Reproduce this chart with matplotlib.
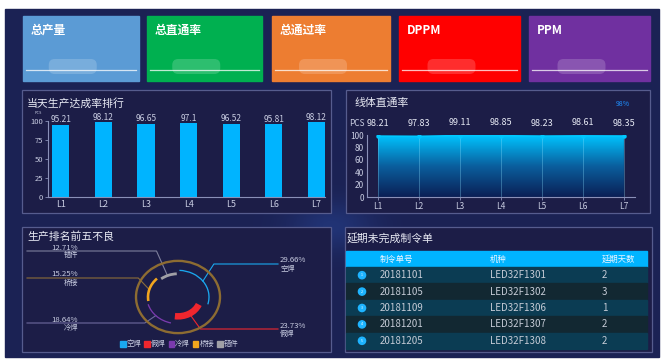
import numpy as np
import matplotlib
matplotlib.use('Agg')
import matplotlib.pyplot as plt
from matplotlib.patches import Rectangle, Arc, Circle, Ellipse, FancyBboxPatch

plt.rcParams['font.family'] = ['Noto Sans CJK SC', 'DejaVu Sans']

# ---------------- data ----------------
card_titles = ['总产量', '总直通率', '总通过率', 'DPPM', 'PPM']
card_colors = ['#5b9bd5', '#00b050', '#ed7d31', '#ff0000', '#7030a0']

line_names = ['L1', 'L2', 'L3', 'L4', 'L5', 'L6', 'L7']
rank_values = [95.21, 98.12, 96.65, 97.1, 96.52, 95.81, 98.12]
rank_labels = ['95.21', '98.12', '96.65', '97.1', '96.52', '95.81', '98.12']
fpy_values = [98.21, 97.83, 99.11, 98.85, 98.23, 98.61, 98.35]
fpy_labels = ['98.21', '97.83', '99.11', '98.85', '98.23', '98.61', '98.35']

defect_names = ['空焊', '假焊', '冷焊', '桥接', '错件']
defect_pcts = [29.66, 23.73, 18.64, 15.25, 12.71]
defect_colors = ['#1aa8f0', '#f0262e', '#7a3aae', '#f2a51e', '#a0a0a6']

table_headers = ['制令单号', '机种', '延期天数']
order_ids = ['20181101', '20181105', '20181109', '20181201', '20181205']
models = ['LED32F1301', 'LED32F1302', 'LED32F1306', 'LED32F1307', 'LED32F1308']
delay_days = ['2', '3', '1', '2', '2']

# ---------------- figure ----------------
W, H = 669, 363
fig = plt.figure(figsize=(W / 100, H / 100), dpi=100)
fig.patch.set_facecolor('white')

bg = fig.add_axes([0, 0, 1, 1])
bg.set_xlim(0, W)
bg.set_ylim(H, 0)
bg.axis('off')


def pax(x0, y0, x1, y1):
    a = fig.add_axes([x0 / W, 1 - y1 / H, (x1 - x0) / W, (y1 - y0) / H])
    a.set_facecolor('none')
    return a


TXT = '#c9cde2'
AX = '#8a90b8'
PANEL = '#1c1d47'
BORDER = '#565c8e'

# dark dashboard background
bg.add_patch(Rectangle((5, 9), 654, 348, color='#1b2254', zorder=0))
yy, xx = np.mgrid[0:60, 0:60]
gl = np.exp(-(((xx - 30) / 18.0) ** 2 + ((yy - 30) / 14.0) ** 2))
bg.imshow(gl, extent=(230, 430, 300, 150), cmap=matplotlib.colors.LinearSegmentedColormap.from_list(
    'g', [(0.11, 0.13, 0.33, 0), (0.15, 0.25, 0.55, 0.6)]), zorder=0.5, aspect='auto')
bg.set_xlim(0, W)
bg.set_ylim(H, 0)

# cards
card_x = [(23, 138.5), (147, 261.5), (272, 390), (399, 520), (529, 650)]
for (x0, x1), t, c in zip(card_x, card_titles, card_colors):
    bg.add_patch(Rectangle((x0, 15.5), x1 - x0, 65, color=c, zorder=1))
    bg.text(x0 + 8, 30, t, color='white', fontsize=8.5, fontweight='bold',
            va='center', ha='left', zorder=3)
    bg.plot([x0 + 3, x1 - 3], [70, 70], color='white', lw=0.9, alpha=0.75, zorder=2)
    xm = (x0 + x1) / 2 - 5
    bg.add_patch(FancyBboxPatch((xm - 26, 60), 46, 13, boxstyle='round,pad=1,rounding_size=6',
                                color='white', alpha=0.18, lw=0, zorder=2))

# panels
panels = [(22, 90, 331, 213), (346, 90, 650, 213), (22, 227, 331, 352), (345, 227, 652, 352)]
for x0, y0, x1, y1 in panels:
    bg.add_patch(Rectangle((x0, y0), x1 - x0, y1 - y0, facecolor=PANEL,
                           edgecolor=BORDER, lw=0.9, zorder=1))

bg.text(27, 103, '当天生产达成率排行', color='#e8eaf4', fontsize=7.8, va='center', zorder=3)
bg.text(354, 103, '线体直通率', color='#e8eaf4', fontsize=7.8, va='center', zorder=3)
bg.text(27, 236.5, '生产排名前五不良', color='#e8eaf4', fontsize=7.8, va='center', zorder=3)
bg.text(347, 239, '延期未完成制令单', color='#e8eaf4', fontsize=7.8, va='center', zorder=3)

# ---------------- bar chart ----------------
axb = pax(48, 121, 325, 197)
xb = np.arange(len(line_names))
axb.bar(xb, rank_values, width=0.4, color='#00b4ff', zorder=2)
for xi, v, lab in zip(xb, rank_values, rank_labels):
    axb.text(xi, v + 0.5, lab, ha='center', va='bottom', fontsize=6, color=TXT)
axb.set_xlim(-0.3, 6.2)
axb.set_ylim(0, 100)
axb.set_yticks([0, 25, 50, 75, 100])
axb.set_xticks(xb)
axb.set_xticklabels(line_names)
for s in ['top', 'right']:
    axb.spines[s].set_visible(False)
for s in ['left', 'bottom']:
    axb.spines[s].set_color(AX)
    axb.spines[s].set_linewidth(0.8)
axb.tick_params(axis='y', colors=AX, labelcolor=TXT, labelsize=5.5, length=2, width=0.6, pad=1.5)
axb.tick_params(axis='x', colors=AX, labelcolor=TXT, labelsize=6.5, length=0, pad=2)
bg.text(38, 113, 'PCS', color=TXT, fontsize=2.8, ha='center', va='center', zorder=3)

# ---------------- line / area chart ----------------
axl = pax(367, 135, 635, 197)
xl = np.arange(len(line_names))
axl.set_xlim(-0.27, 6.27)
axl.set_ylim(0, 100)
grad = np.linspace(1, 0, 256).reshape(-1, 1)
cmap = matplotlib.colors.LinearSegmentedColormap.from_list('a', ['#0b1f55', '#0a5f9e', '#00c4ff'])
im = axl.imshow(grad, extent=(xl[0], xl[-1], 0, 100), aspect='auto', cmap=cmap,
                origin='upper', zorder=1)
poly = axl.fill_between(xl, 0, fpy_values, color='none')
im.set_clip_path(poly.get_paths()[0], transform=axl.transData)
axl.set_xlim(-0.27, 6.27)
axl.set_ylim(0, 100)
axl.vlines(xl, 0, fpy_values, color='#8fe3ff', lw=0.5, alpha=0.45, zorder=2)
axl.plot(xl, fpy_values, color='#00c8ff', lw=1.2, marker='o', ms=2.2, zorder=3)
for xi, v, lab in zip(xl, fpy_values, fpy_labels):
    axl.annotate(lab, (xi, v), xytext=(0, 13), textcoords='offset pixels',
                 ha='center', va='center', fontsize=6.5, color='#e6e9f4')
axl.set_yticks([0, 20, 40, 60, 80, 100])
axl.set_xticks(xl)
axl.set_xticklabels(line_names)
for s in ['top', 'right']:
    axl.spines[s].set_visible(False)
for s in ['left', 'bottom']:
    axl.spines[s].set_color(AX)
    axl.spines[s].set_linewidth(0.8)
axl.tick_params(axis='y', colors=AX, labelcolor=TXT, labelsize=6, length=0, pad=2)
axl.tick_params(axis='x', colors=AX, labelcolor=TXT, labelsize=6, length=2.5, width=0.6, pad=1)
bg.text(357, 124, 'PCS', color=TXT, fontsize=6, ha='center', va='center', zorder=3)
bg.text(623, 104, '98%', color='#1e8fff', fontsize=5, ha='center', va='center', zorder=3)

# ---------------- defect ring chart ----------------
axp = pax(110, 245, 250, 350)
axp.set_xlim(110, 250)
axp.set_ylim(-350, -245)
axp.axis('off')
cx, cy = 178, 297
sx, sy = 1.0, 0.86
axp.add_patch(Ellipse((cx, -cy), 2 * 42 * sx, 2 * 42 * sy, fill=False,
                      edgecolor='#8d6c32', lw=1.7))
radii = [31, 22.5, 31, 30, 27]
widths_px = [1.3, 6.5, 1.3, 2.6, 2.8]
gap = 3.0
start = 90.0
mids = []
for pct, col, r, wpx in zip(defect_pcts, defect_colors, radii, widths_px):
    span = pct * 3.6
    t2 = start - gap
    t1 = start - span + gap
    axp.add_patch(Arc((cx, -cy), 2 * r * sx, 2 * r * sy, theta1=t1, theta2=t2,
                      color=col, lw=wpx * 0.72))
    mids.append((start - span / 2, r))
    start -= span

# leader lines & labels (on background axes, pixel coords)
label_y = [264, 329, 323, 278, 251]
sides = [1, 1, -1, -1, -1]
left_line_colors = {'冷焊': '#6d6a9e', '桥接': '#8c6d3a', '错件': '#7d7f9c'}
for (mid, r), name, pct, col, ly, sd in zip(mids, defect_names, defect_pcts,
                                          defect_colors, label_y, sides):
    ax0 = cx + r * sx * np.cos(np.radians(mid))
    ay0 = cy - r * sy * np.sin(np.radians(mid))
    ex = ax0 + 11 * sd
    if sd > 0:
        bg.plot([ax0, ex, 278], [ay0, ly, ly], color=col, lw=0.8, zorder=4)
        bg.text(280, ly + 0.5, f'{pct:.2f}%', color=TXT, fontsize=5.6, ha='left', va='bottom', zorder=4)
        bg.text(280, ly + 0.5, name, color=TXT, fontsize=5.2, ha='left', va='top', zorder=4)
    else:
        bg.plot([ax0, ex, 27], [ay0, ly, ly], color=left_line_colors[name], lw=0.8, zorder=4)
        bg.text(78, ly + 0.5, f'{pct:.2f}%', color=TXT, fontsize=5.6, ha='right', va='bottom', zorder=4)
        bg.text(78, ly + 0.5, name, color=TXT, fontsize=5.2, ha='right', va='top', zorder=4)

# legend
for i, (name, col) in enumerate(zip(defect_names, defect_colors)):
    lx = 120 + i * 24.3
    bg.add_patch(Rectangle((lx, 341), 5.5, 5.5, color=col, zorder=4))
    bg.text(lx + 6.5, 344, name, color=TXT, fontsize=5.3, ha='left', va='center', zorder=4)

# ---------------- table ----------------
tx0, tx1 = 346, 647
bg.add_patch(Rectangle((tx0, 251), tx1 - tx0, 16, color='#00b4ff', zorder=2))
col_x = [380, 490, 602]
for x, h in zip(col_x, table_headers):
    bg.text(x, 259.5, h, color='#eef6ff', fontsize=6, ha='left', va='center', zorder=3)
row_h = 16.4
for i, (oid, m, d) in enumerate(zip(order_ids, models, delay_days)):
    y0 = 267 + i * row_h
    bg.add_patch(Rectangle((tx0, y0), tx1 - tx0, row_h,
                           color='#0b3c53' if i % 2 == 0 else '#122832', zorder=2))
    yc = y0 + row_h / 2
    bg.add_patch(Circle((362, yc), 3.6, color='#1eb4ff', zorder=3))
    bg.text(362, yc, str(i + 1), color='white', fontsize=2.5, ha='center', va='center', zorder=4)
    for x, v in zip(col_x, [oid, m, d]):
        bg.text(x, yc, v, color='#c5cbd6', fontsize=7, ha='left', va='center', zorder=3)

fig.savefig('out.png', dpi=100, facecolor='white')
